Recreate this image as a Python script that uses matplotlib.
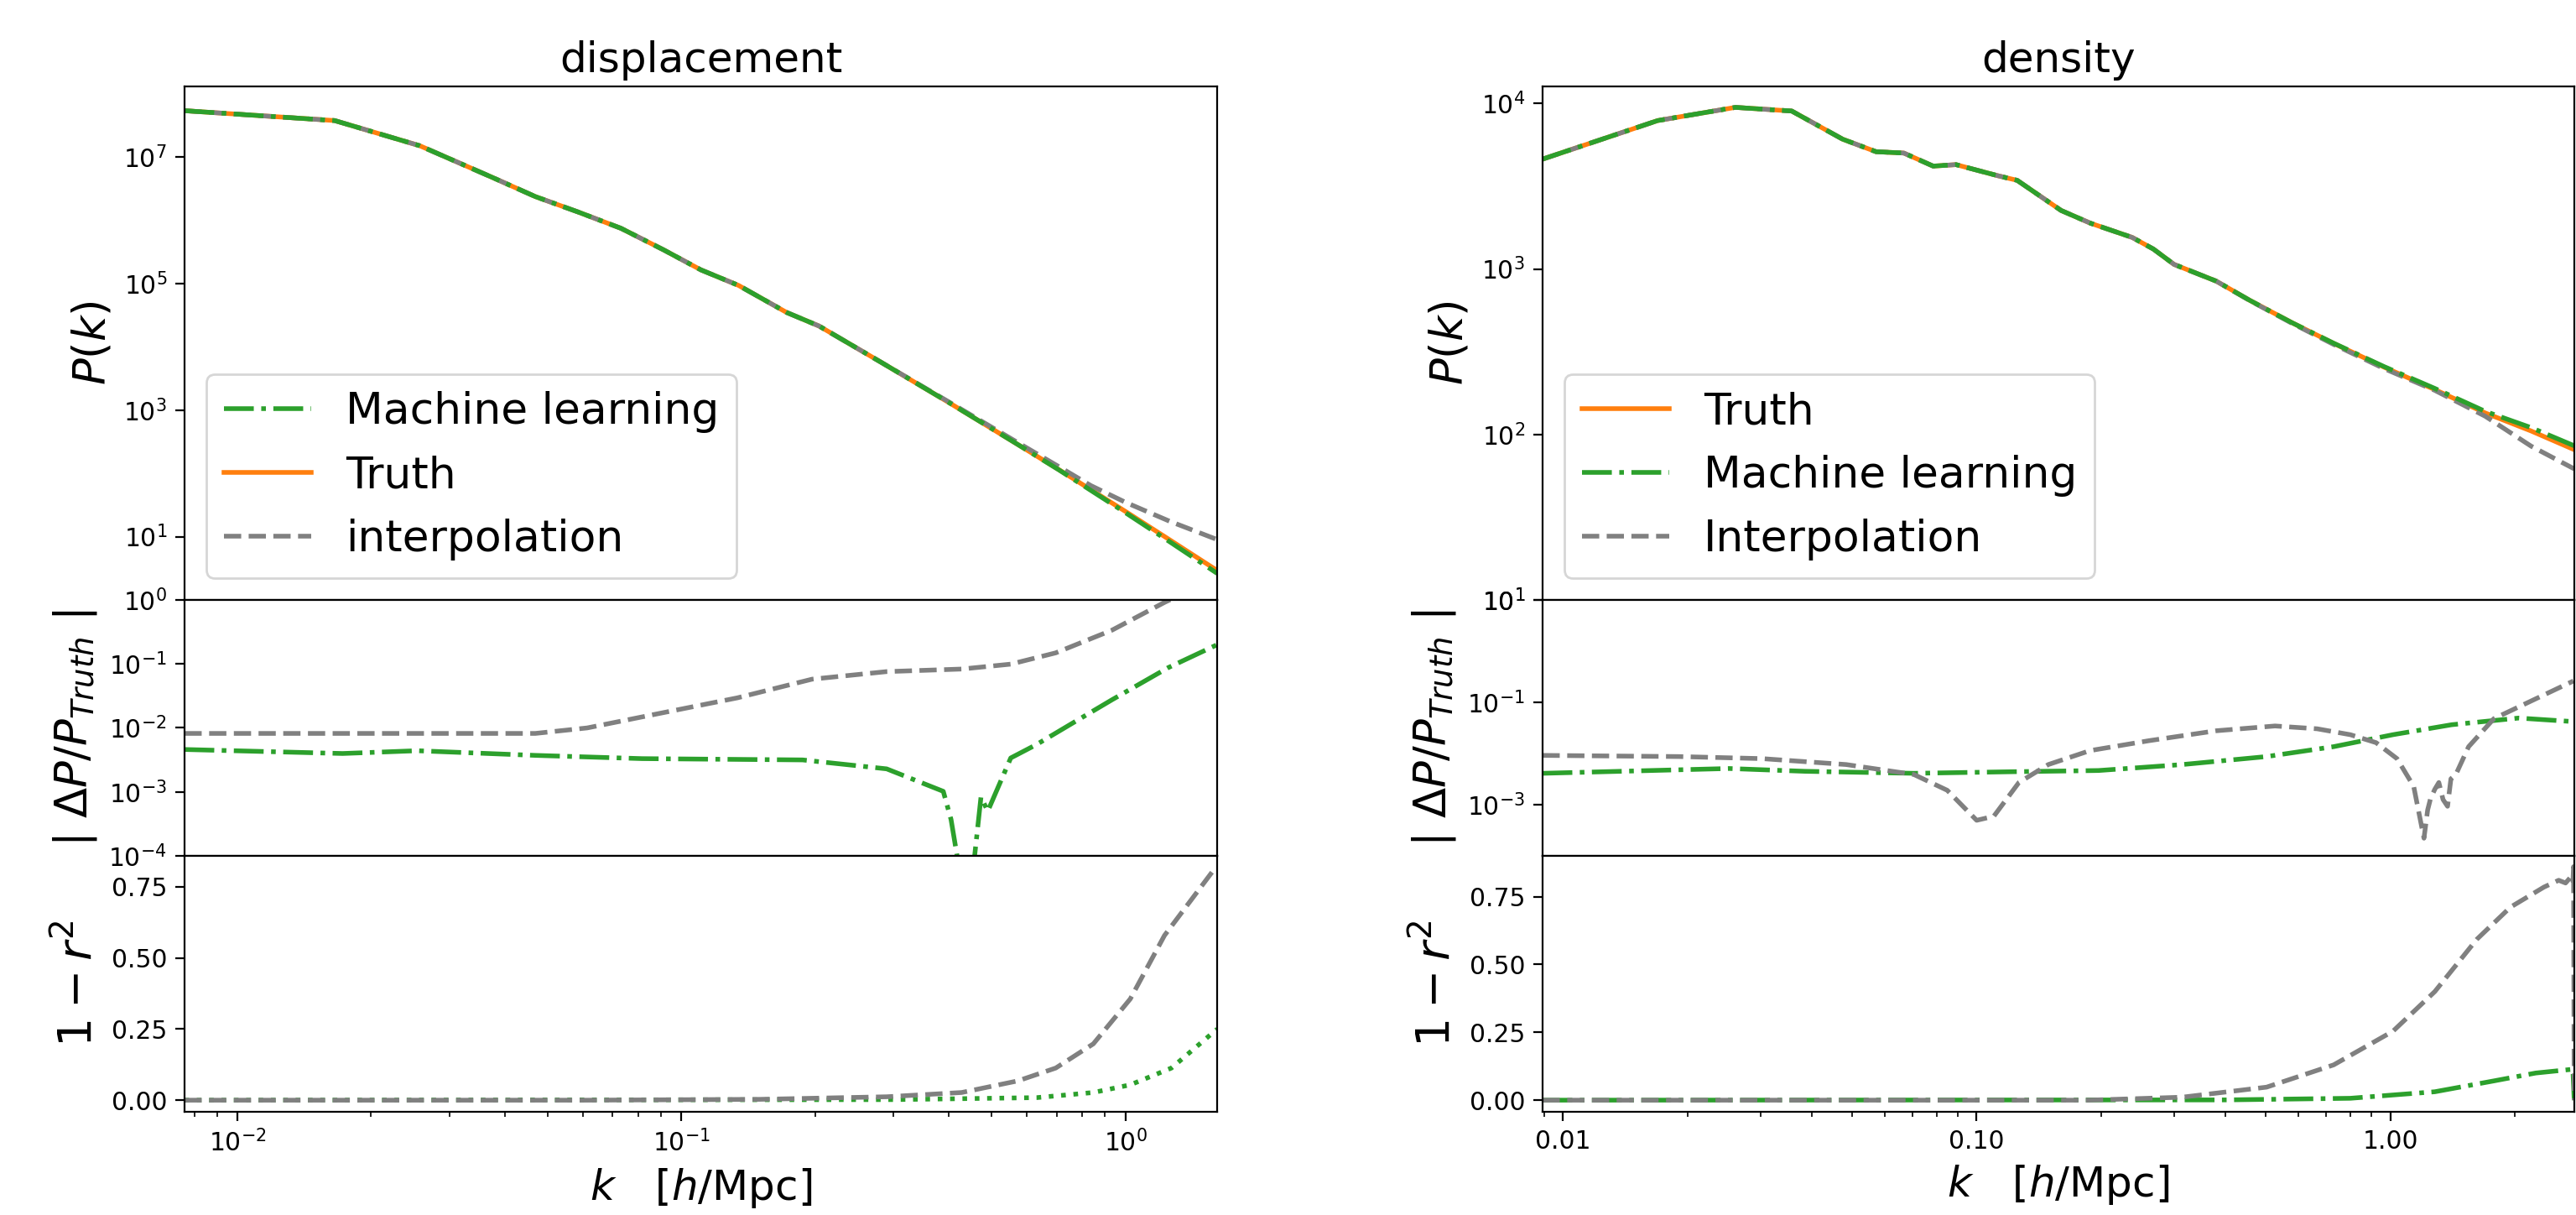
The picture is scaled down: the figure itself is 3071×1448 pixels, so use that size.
import numpy as np
import matplotlib
matplotlib.use("Agg")
import matplotlib.pyplot as plt
from matplotlib.ticker import NullLocator, FormatStrFormatter, NullFormatter

# ---- displacement panel data ----
k_disp = [0.0076, 0.01656, 0.02576, 0.0375, 0.0469, 0.0585, 0.0731, 0.0912, 0.1107,
          0.1346, 0.1726, 0.2042, 0.2818, 0.398, 0.5623, 0.7079, 0.8367, 1.0, 1.259, 1.61]
pk_disp_truth = [5.37e7, 3.75e7, 1.50e7, 4.75e6, 2.36e6, 1.35e6, 7.45e5, 3.40e5, 1.64e5,
                 9.31e4, 3.49e4, 2.13e4, 5.69e3, 1.35e3, 309, 115, 55, 25.1, 8.9, 2.92]
pk_disp_ml = [5.37e7, 3.75e7, 1.50e7, 4.75e6, 2.36e6, 1.35e6, 7.45e5, 3.40e5, 1.64e5,
              9.31e4, 3.49e4, 2.13e4, 5.69e3, 1.35e3, 309, 114, 53.7, 24.0, 8.3, 2.63]
pk_disp_interp = [5.37e7, 3.75e7, 1.50e7, 4.75e6, 2.36e6, 1.35e6, 7.45e5, 3.40e5, 1.64e5,
                  9.31e4, 3.49e4, 2.13e4, 5.69e3, 1.38e3, 330, 128, 64, 35, 17.5, 9.0]

k_disp_err_ml = [0.0076, 0.01726, 0.0254, 0.0469, 0.0815, 0.1875, 0.290, 0.389, 0.405,
                 0.4416, 0.473, 0.49, 0.552, 0.631, 0.767, 0.933, 1.247, 1.61]
err_disp_ml = [4.6e-3, 3.98e-3, 4.4e-3, 3.72e-3, 3.31e-3, 3.16e-3, 2.29e-3, 1.02e-3, 3.7e-4,
               1e-5, 8.3e-4, 5e-4, 3.39e-3, 5.5e-3, 1.23e-2, 2.75e-2, 8.7e-2, 0.2]
k_disp_err_interp = [0.0076, 0.0469, 0.0614, 0.0906, 0.1337, 0.197, 0.290, 0.428, 0.552,
                     0.697, 0.933, 1.225, 1.61]
err_disp_interp = [8.2e-3, 8.2e-3, 1.0e-2, 1.72e-2, 2.95e-2, 5.78e-2, 7.59e-2, 8.32e-2,
                   9.93e-2, 0.149, 0.337, 0.916, 2.24]

k_disp_r_ml = [0.0076, 0.3, 0.632, 0.847, 1.026, 1.27, 1.585, 1.61]
r_disp_ml = [0.0, 0.002, 0.009, 0.027, 0.054, 0.113, 0.241, 0.25]
k_disp_r_interp = [0.0076, 0.0614, 0.15, 0.290, 0.428, 0.573, 0.697, 0.847, 1.026, 1.225, 1.60]
r_disp_interp = [0.0, 0.0, 0.003, 0.012, 0.027, 0.068, 0.113, 0.198, 0.356, 0.579, 0.82]

# ---- density panel data ----
k_dens = [0.00893, 0.01694, 0.02612, 0.03573, 0.04742, 0.05715, 0.06668, 0.07852, 0.08913,
          0.1125, 0.1253, 0.16, 0.1884, 0.2377, 0.2673, 0.2999, 0.3793, 0.4571, 0.5781,
          0.7295, 0.966, 1.279, 1.694, 2.188, 2.78]
pk_dens_truth = [4613, 7889, 9484, 9016, 6095, 5117, 5023, 4188, 4276, 3664, 3436, 2259,
                 1892, 1552, 1321, 1067, 845, 647, 474, 355, 255, 187, 135, 105, 81]
pk_dens_ml = [4613, 7889, 9484, 9016, 6095, 5117, 5023, 4188, 4276, 3664, 3436, 2259,
              1892, 1552, 1321, 1067, 845, 647, 474, 356, 257, 190, 138, 110, 85.5]
pk_dens_interp = [4613, 7889, 9484, 9016, 6095, 5117, 5023, 4188, 4276, 3664, 3436, 2259,
                  1892, 1552, 1321, 1067, 845, 645, 470, 350, 250, 185, 129, 85, 62]

k_dens_err_ml = [0.00893, 0.0252, 0.0384, 0.0705, 0.1236, 0.197, 0.314, 0.502, 0.729,
                 1.014, 1.406, 2.042, 2.767]
err_dens_ml = [4.1e-3, 5.09e-3, 4.49e-3, 4.1e-3, 4.41e-3, 4.65e-3, 6.08e-3, 8.71e-3,
               1.36e-2, 2.33e-2, 3.65e-2, 4.93e-2, 4.2e-2]
k_dens_err_interp = [0.00893, 0.0191, 0.0303, 0.0484, 0.0705, 0.0849, 0.100, 0.110, 0.1265,
                     0.149, 0.188, 0.261, 0.379, 0.526, 0.665, 0.80, 0.923, 1.037, 1.138,
                     1.205, 1.23, 1.25, 1.28, 1.309, 1.34, 1.374, 1.40, 1.439, 1.545,
                     1.778, 2.244, 2.767]
err_dens_interp = [9.18e-3, 8.71e-3, 7.94e-3, 6.08e-3, 3.89e-3, 1.91e-3, 4.95e-4, 5.93e-4,
                   2.71e-3, 6.08e-3, 1.14e-2, 1.78e-2, 2.78e-2, 3.45e-2, 3.04e-2, 2.33e-2,
                   1.63e-2, 7.94e-3, 2.28e-3, 2.21e-4, 7.9e-4, 1.32e-3, 2.0e-3, 2.71e-3,
                   1.26e-3, 9.3e-4, 3.2e-3, 3.89e-3, 1.36e-2, 4.79e-2, 0.117, 0.261]

k_dens_r_ml = [0.00893, 0.4, 0.80, 1.28, 1.778, 2.244, 2.76, 2.78]
r_dens_ml = [0.0, 0.001, 0.007, 0.031, 0.071, 0.10, 0.114, 0.0]
k_dens_r_interp = [0.00893, 0.186, 0.314, 0.502, 0.729, 1.014, 1.28, 1.618, 1.95, 2.35,
                   2.55, 2.65, 2.72, 2.76, 2.77, 2.78]
r_dens_interp = [0.0, 0.0, 0.011, 0.048, 0.13, 0.254, 0.40, 0.593, 0.711, 0.785,
                 0.81, 0.80, 0.82, 0.80, 0.86, 0.0]

C_TRUTH = '#ff7f0e'
C_ML = '#2ca02c'
C_INT = 'gray'
LW = 2

fig = plt.figure(figsize=(15.355, 7.24), dpi=200)

def make_axes(x0, w):
    a_top = fig.add_axes([x0, 0.5062, w, 0.4227])
    a_mid = fig.add_axes([x0, 0.2956, w, 0.2106], sharex=a_top)
    a_bot = fig.add_axes([x0, 0.0849, w, 0.2107], sharex=a_top)
    for a in (a_top, a_mid, a_bot):
        a.tick_params(labelsize=10.7, length=4)
        a.tick_params(which='minor', length=2)
    for a in (a_top, a_mid):
        a.tick_params(axis='x', which='both', bottom=False, labelbottom=False)
    return a_top, a_mid, a_bot

# ---------- left: displacement ----------
ax1, ax2, ax3 = make_axes(0.0716, 0.4009)
l_t, = ax1.plot(k_disp, pk_disp_truth, color=C_TRUTH, lw=LW, label='Truth')
l_i, = ax1.plot(k_disp, pk_disp_interp, color=C_INT, ls='--', lw=LW, label='interpolation')
l_m, = ax1.plot(k_disp, pk_disp_ml, color=C_ML, ls='-.', lw=LW, label='Machine learning')
ax1.set_xscale('log')
ax1.set_yscale('log')
ax1.set_ylim(1, 1.3e8)
ax1.set_yticks([1e1, 1e3, 1e5, 1e7])
ax1.yaxis.set_minor_locator(NullLocator())
ax1.set_ylabel(r'$P(k)$', fontsize=19)
ax1.set_title('displacement', fontsize=18)
ax1.legend(handles=[l_m, l_t, l_i], loc='lower left', fontsize=18.7)

ax2.plot(k_disp_err_ml, err_disp_ml, color=C_ML, ls='-.', lw=LW)
ax2.plot(k_disp_err_interp, err_disp_interp, color=C_INT, ls='--', lw=LW)
ax2.set_yscale('log')
ax2.set_ylim(1e-4, 1)
ax2.set_yticks([1e-4, 1e-3, 1e-2, 1e-1, 1e0])
ax2.yaxis.set_minor_locator(NullLocator())
ax2.set_ylabel(r'| $\Delta P/P_{Truth}$ |', fontsize=19)

ax3.plot(k_disp_r_ml, r_disp_ml, color=C_ML, ls=':', lw=LW)
ax3.plot(k_disp_r_interp, r_disp_interp, color=C_INT, ls='--', lw=LW)
ax3.set_ylim(-0.041, 0.859)
ax3.set_yticks([0.0, 0.25, 0.5, 0.75])
ax3.yaxis.set_major_formatter(FormatStrFormatter('%.2f'))
ax3.set_ylabel(r'$1-r^2$', fontsize=20)
ax3.set_xlabel(r'$k \quad [h/{\rm Mpc}]$', fontsize=18)
ax3.set_xlim(0.0076, 1.61)

# ---------- right: density ----------
bx1, bx2, bx3 = make_axes(0.5988, 0.4005)
m_t, = bx1.plot(k_dens, pk_dens_truth, color=C_TRUTH, lw=LW, label='Truth')
m_i, = bx1.plot(k_dens, pk_dens_interp, color=C_INT, ls='--', lw=LW, label='Interpolation')
m_m, = bx1.plot(k_dens, pk_dens_ml, color=C_ML, ls='-.', lw=LW, label='Machine learning')
bx1.set_xscale('log')
bx1.set_yscale('log')
bx1.set_ylim(10, 1.27e4)
bx1.set_yticks([1e1, 1e2, 1e3, 1e4])
bx1.yaxis.set_minor_locator(NullLocator())
bx1.set_ylabel(r'$P(k)$', fontsize=19)
bx1.set_title('density', fontsize=18)
bx1.legend(handles=[m_t, m_m, m_i], loc='lower left', fontsize=18.7)

bx2.plot(k_dens_err_ml, err_dens_ml, color=C_ML, ls='-.', lw=LW)
bx2.plot(k_dens_err_interp, err_dens_interp, color=C_INT, ls='--', lw=LW)
bx2.set_yscale('log')
bx2.set_ylim(1e-4, 10)
bx2.set_yticks([1e-3, 1e-1, 1e1])
bx2.yaxis.set_minor_locator(NullLocator())
bx2.set_ylabel(r'| $\Delta P/P_{Truth}$ |', fontsize=19)

bx3.plot(k_dens_r_ml, r_dens_ml, color=C_ML, ls='-.', lw=LW)
bx3.plot(k_dens_r_interp, r_dens_interp, color=C_INT, ls='--', lw=LW)
bx3.set_ylim(-0.043, 0.90)
bx3.set_yticks([0.0, 0.25, 0.5, 0.75])
bx3.yaxis.set_major_formatter(FormatStrFormatter('%.2f'))
bx3.set_ylabel(r'$1-r^2$', fontsize=20)
bx3.set_xlabel(r'$k \quad [h/{\rm Mpc}]$', fontsize=18)
bx3.set_xlim(0.00893, 2.78)
bx3.xaxis.set_major_formatter(FormatStrFormatter('%.2f'))
bx3.xaxis.set_minor_formatter(NullFormatter())

fig.savefig('out.png', dpi=200)
